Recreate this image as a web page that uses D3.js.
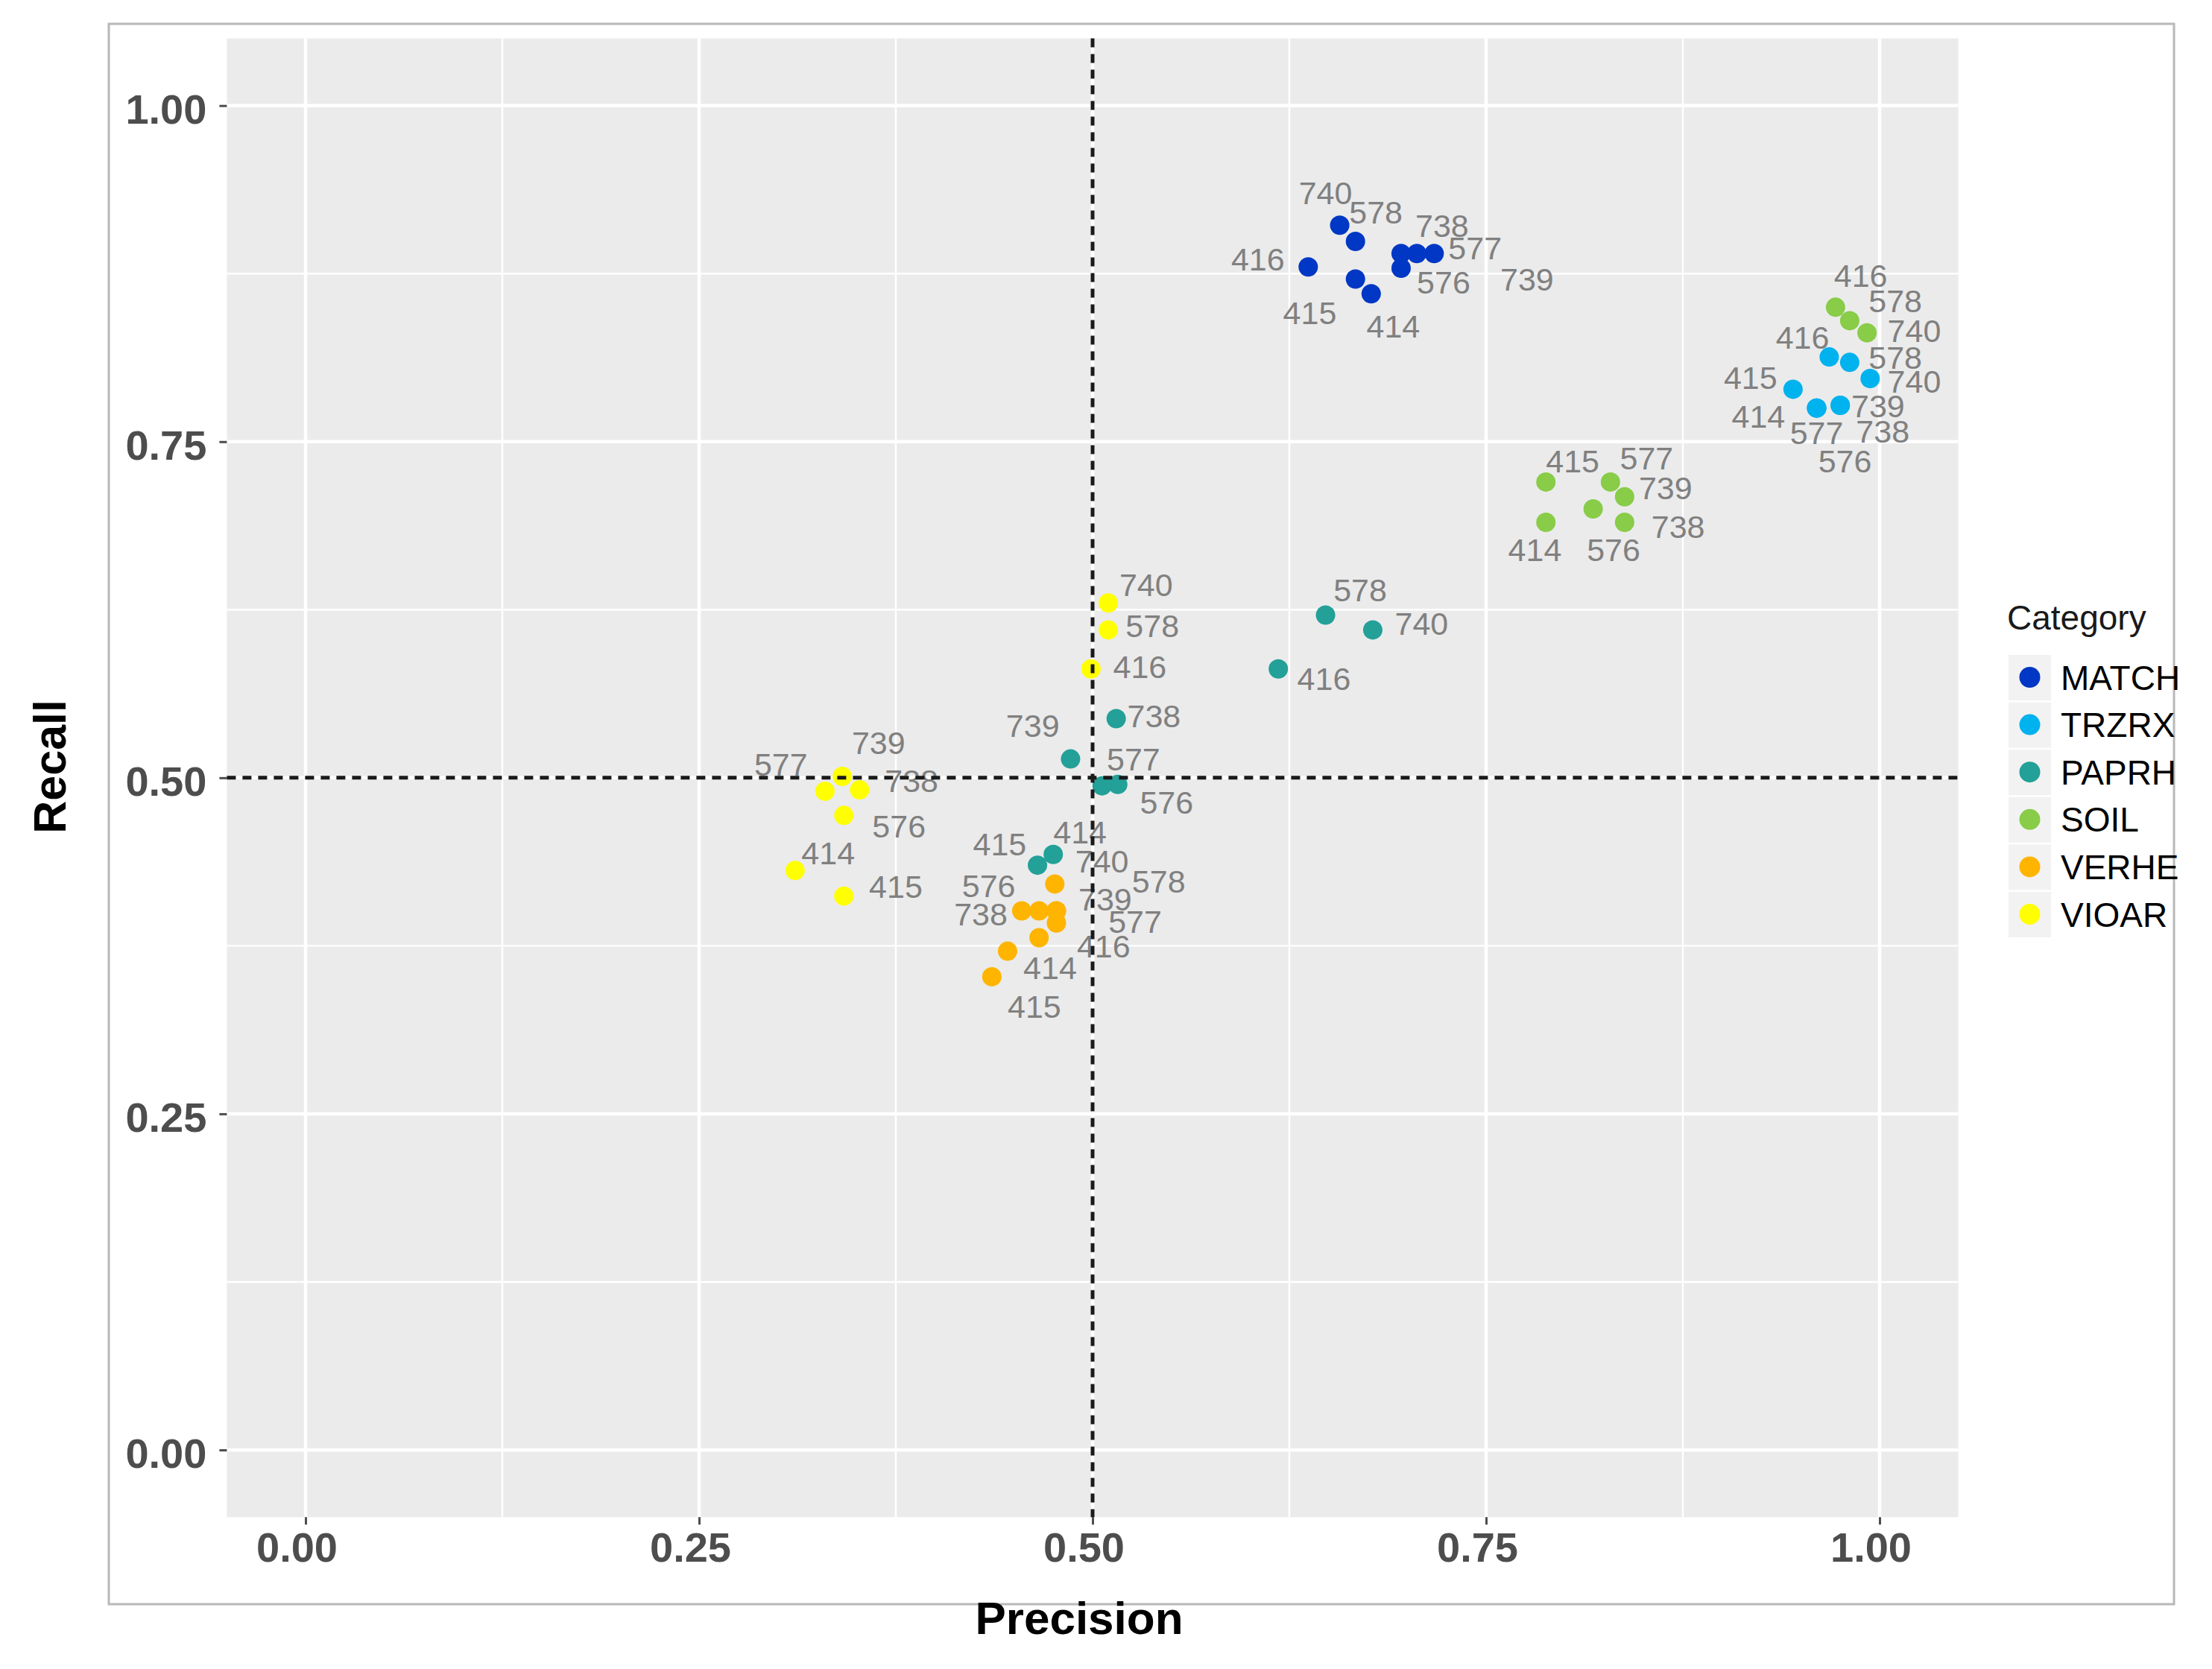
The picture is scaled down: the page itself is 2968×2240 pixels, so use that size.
<!DOCTYPE html>
<html lang="en">
  <head>
    <meta charset="UTF-8" />
    <title>Precision vs Recall by Category</title>
    <script src="https://d3js.org/d3.v7.min.js"></script>
    <style>
      body { margin: 0; background: #fff; }
      svg { display: block; font-family: "Liberation Sans", Arial, sans-serif; }
    </style>
  </head>
  <body>
    <svg id="chart" width="2968" height="2240"></svg>

    <script>
      // ---- data ----
      const categories = ["MATCH", "TRZRX", "PAPRH", "SOIL", "VERHE", "VIOAR"];
      const palette = ["#0037c4", "#00b2ee", "#23a098", "#88cc48", "#ffb400", "#ffff00"];
      const sites = ["414", "415", "416", "576", "577", "578", "738", "739", "740"];

      // one row per category, columns follow `sites`
      const precision = [
        [0.677, 0.667, 0.637, 0.696, 0.717, 0.667, 0.696, 0.706, 0.657],
        [0.960, 0.945, 0.968, 0.960, 0.960, 0.981, 0.975, 0.975, 0.994],
        [0.475, 0.465, 0.618, 0.516, 0.506, 0.648, 0.515, 0.486, 0.678],
        [0.788, 0.788, 0.972, 0.818, 0.829, 0.981, 0.838, 0.838, 0.992],
        [0.446, 0.436, 0.466, 0.466, 0.477, 0.477, 0.455, 0.477, 0.476],
        [0.311, 0.342, 0.499, 0.342, 0.330, 0.510, 0.352, 0.341, 0.510],
      ];
      const recall = [
        [0.860, 0.871, 0.880, 0.879, 0.890, 0.899, 0.890, 0.890, 0.911],
        [0.775, 0.789, 0.813, 0.775, 0.775, 0.809, 0.777, 0.777, 0.797],
        [0.443, 0.435, 0.581, 0.495, 0.494, 0.621, 0.544, 0.514, 0.610],
        [0.690, 0.720, 0.850, 0.700, 0.720, 0.840, 0.690, 0.709, 0.831],
        [0.371, 0.352, 0.381, 0.401, 0.392, 0.401, 0.401, 0.401, 0.421],
        [0.431, 0.412, 0.581, 0.472, 0.490, 0.610, 0.491, 0.501, 0.630],
      ];

      // where the repelled site labels sit, in data units
      const labelPrecision = [
        [0.691, 0.638, 0.605, 0.723, 0.743, 0.680, 0.722, 0.776, 0.648],
        [0.923, 0.918, 0.951, 0.978, 0.960, 1.010, 1.002, 0.999, 1.022],
        [0.492, 0.441, 0.647, 0.547, 0.526, 0.670, 0.539, 0.462, 0.709],
        [0.781, 0.805, 0.988, 0.831, 0.852, 1.010, 0.872, 0.864, 1.022],
        [0.473, 0.463, 0.507, 0.434, 0.527, 0.542, 0.429, 0.508, 0.506],
        [0.332, 0.375, 0.530, 0.377, 0.302, 0.538, 0.385, 0.364, 0.534],
      ];
      const labelRecall = [
        [0.836, 0.846, 0.886, 0.869, 0.894, 0.921, 0.911, 0.871, 0.935],
        [0.769, 0.798, 0.828, 0.736, 0.757, 0.813, 0.758, 0.777, 0.795],
        [0.460, 0.451, 0.574, 0.482, 0.514, 0.640, 0.546, 0.539, 0.615],
        [0.670, 0.736, 0.874, 0.670, 0.738, 0.855, 0.687, 0.716, 0.833],
        [0.359, 0.330, 0.375, 0.420, 0.393, 0.423, 0.399, 0.410, 0.438],
        [0.444, 0.419, 0.583, 0.464, 0.510, 0.613, 0.498, 0.526, 0.644],
      ];

      const majorTicks = [0, 0.25, 0.5, 0.75, 1];
      const minorTicks = [0.125, 0.375, 0.625, 0.875];
      const cutoff = 0.5;

      // flatten to one row per point
      const points = [];
      categories.forEach((cat, i) => {
        sites.forEach((site, j) => {
          points.push({
            category: cat,
            site: site,
            precision: precision[i][j],
            recall: recall[i][j],
            lx: labelPrecision[i][j],
            ly: labelRecall[i][j],
          });
        });
      });

      const svg = d3.select("#chart"),
        margin = { top: 51.5, left: 304.4 },
        width = 2323.2,
        height = 1984.7,
        chart = svg
          .append("g")
          .attr("transform", `translate(${margin.left},${margin.top})`);

      const x = d3.scaleLinear().domain([-0.05, 1.05]).range([0, width]);
      const y = d3.scaleLinear().domain([-0.05, 1.05]).range([height, 0]);
      const color = d3.scaleOrdinal().domain(categories).range(palette);

      // outer frame
      svg
        .append("rect")
        .attr("x", 146)
        .attr("y", 32)
        .attr("width", 2771)
        .attr("height", 2121)
        .attr("fill", "none")
        .attr("stroke", "#b8b8b8")
        .attr("stroke-width", 3);

      // panel + grid
      chart
        .append("rect")
        .attr("width", width)
        .attr("height", height)
        .attr("fill", "#ebebeb");

      const grid = chart.append("g").attr("stroke", "#fff");
      [
        [minorTicks, 2.4],
        [majorTicks, 4.5],
      ].forEach(([ticks, w]) => {
        grid
          .selectAll(null)
          .data(ticks)
          .enter()
          .append("line")
          .attr("x1", (d) => x(d))
          .attr("x2", (d) => x(d))
          .attr("y1", 0)
          .attr("y2", height)
          .attr("stroke-width", w);
        grid
          .selectAll(null)
          .data(ticks)
          .enter()
          .append("line")
          .attr("y1", (d) => y(d))
          .attr("y2", (d) => y(d))
          .attr("x1", 0)
          .attr("x2", width)
          .attr("stroke-width", w);
      });

      // axes
      const xAxis = chart
        .append("g")
        .attr("transform", `translate(0,${height})`)
        .call(
          d3.axisBottom(x).tickValues(majorTicks).tickFormat(d3.format(".2f")).tickSize(10).tickPadding(10)
        );
      const yAxis = chart
        .append("g")
        .call(
          d3.axisLeft(y).tickValues(majorTicks).tickFormat(d3.format(".2f")).tickSize(10).tickPadding(17)
        );
      [xAxis, yAxis].forEach((a) => {
        a.select(".domain").remove();
        a.selectAll("line").attr("stroke", "#4d4d4d").attr("stroke-width", 3);
        a.selectAll("text")
          .attr("fill", "#4d4d4d")
          .style("font-size", "56px")
          .style("font-weight", "bold")
          .style("font-family", "Liberation Sans, Arial, sans-serif");
      });
      xAxis.selectAll("text").attr("dx", -12);
      yAxis.selectAll("text").attr("dy", "0.42em");

      // points
      chart
        .selectAll(".dot")
        .data(points)
        .enter()
        .append("circle")
        .attr("class", "dot")
        .attr("cx", (d) => x(d.precision))
        .attr("cy", (d) => y(d.recall))
        .attr("r", 13)
        .attr("fill", (d) => color(d.category));

      // site labels
      chart
        .selectAll(".site")
        .data(points)
        .enter()
        .append("text")
        .attr("class", "site")
        .attr("x", (d) => x(d.lx))
        .attr("y", (d) => y(d.ly))
        .attr("dy", "0.36em")
        .attr("text-anchor", "middle")
        .attr("fill", "#808080")
        .style("font-size", "43px")
        .text((d) => d.site);

      // 0.5 cut-off lines
      const cut = chart
        .append("g")
        .attr("stroke", "#1a1a1a")
        .attr("stroke-width", 5)
        .attr("stroke-dasharray", "12,9");
      cut
        .append("line")
        .attr("x1", x(cutoff))
        .attr("x2", x(cutoff))
        .attr("y1", 0)
        .attr("y2", height);
      cut
        .append("line")
        .attr("x1", 0)
        .attr("x2", width)
        .attr("y1", y(cutoff))
        .attr("y2", y(cutoff));

      // axis titles
      svg
        .append("text")
        .attr("x", margin.left + x(0.5) - 18)
        .attr("y", 2193)
        .attr("text-anchor", "middle")
        .style("font-size", "62px")
        .style("font-weight", "bold")
        .text("Precision");
      svg
        .append("text")
        .attr("transform", `translate(88,${margin.top + y(0.5) - 15}) rotate(-90)`)
        .attr("text-anchor", "middle")
        .style("font-size", "61px")
        .style("font-weight", "bold")
        .text("Recall");

      // legend
      const legend = svg.append("g").attr("transform", "translate(2693,845)");
      legend
        .append("text")
        .attr("fill", "#1a1a1a")
        .style("font-size", "46px")
        .text("Category");
      const items = legend
        .selectAll(".legend-item")
        .data(categories)
        .enter()
        .append("g")
        .attr("class", "legend-item")
        .attr("transform", (d, i) => `translate(2,${34 + i * 63.6})`);
      items
        .append("rect")
        .attr("width", 57)
        .attr("height", 61)
        .attr("fill", "#f2f2f2");
      items
        .append("circle")
        .attr("cx", 28.5)
        .attr("cy", 30)
        .attr("r", 14)
        .attr("fill", (d) => color(d));
      items
        .append("text")
        .attr("x", 70)
        .attr("y", 30)
        .attr("dy", "0.36em")
        .style("font-size", "46px")
        .text((d) => d);
    </script>
  </body>
</html>
